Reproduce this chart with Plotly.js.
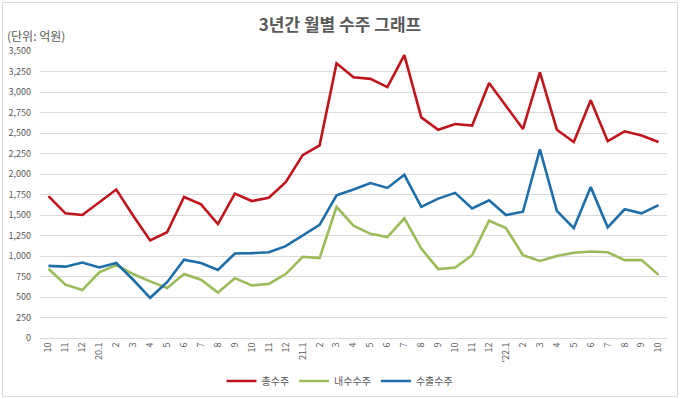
<!DOCTYPE html>
<html>
<head>
<meta charset="utf-8">
<script src="https://cdn.plot.ly/plotly-3.0.1.min.js"></script>
<style>
  html, body { margin: 0; padding: 0; background: #fff; }
  #wrap { position: relative; width: 680px; height: 399px; }
  #chart { width: 680px; height: 399px; }
  #frame { position: absolute; left: 2px; top: 2px; width: 674px; height: 393px; border: 1px solid #d9d9d9; pointer-events: none; }
</style>
</head>
<body>
<div id="wrap"><div id="chart"></div><div id="frame"></div></div>
<script>
const monthLabels = ["10","11","12","20.1","2","3","4","5","6","7","8","9","10","11","12","21.1","2","3","4","5","6","7","8","9","10","11","12","'22.1","2","3","4","5","6","7","8","9","10"];
const totalOrders = [1730,1520,1500,1660,1810,1490,1190,1290,1720,1630,1390,1760,1670,1710,1900,2230,2350,3350,3180,3160,3060,3450,2690,2540,2610,2590,3110,2830,2550,3240,2540,2390,2900,2400,2520,2470,2390];
const domesticOrders = [845,650,585,800,890,780,690,610,780,710,555,730,640,660,780,990,975,1600,1370,1270,1230,1460,1090,840,860,1010,1430,1340,1010,940,1000,1040,1055,1045,950,950,770];
const exportOrders = [880,870,920,860,915,710,490,680,955,915,830,1030,1035,1045,1120,1250,1380,1740,1810,1890,1830,1990,1600,1700,1770,1580,1680,1500,1540,2300,1550,1340,1840,1350,1570,1520,1620];
const seriesNames = ["총수주","내수수주","수출수주"];
const yTicks = [0,250,500,750,1000,1250,1500,1750,2000,2250,2500,2750,3000,3250,3500];

const xIdx = monthLabels.map((_, i) => i);
const colors = ["#C0141C", "#9BBB59", "#1E6EAA"];
const font = '"Noto Sans CJK KR", "Noto Sans", sans-serif';

const traces = [totalOrders, domesticOrders, exportOrders].map((ys, k) => ({
  x: xIdx, y: ys, name: seriesNames[k], type: 'scatter', mode: 'lines',
  line: { color: colors[k], width: 2.6 }
}));

const layout = {
  width: 680, height: 399,
  margin: { l: 40, r: 13, t: 51, b: 61 },
  paper_bgcolor: '#fff', plot_bgcolor: '#fff',
  font: { family: font, color: '#595959', size: 9 },
  separators: '.,',
  title: { text: '3년간 월별 수주 그래프', x: 0.5, xref: 'container', xanchor: 'center', y: 0.937, yref: 'container', yanchor: 'middle', font: { family: font, size: 17, weight: 600, color: '#595959' } },
  xaxis: {
    range: [-0.5, 36.5], tickmode: 'array', tickvals: xIdx, ticktext: monthLabels,
    tickangle: -90, ticks: '', showgrid: false, zeroline: false,
    showline: true, linecolor: '#d9d9d9', linewidth: 1,
    tickfont: { size: 9, color: '#595959' }, fixedrange: true
  },
  yaxis: {
    range: [0, 3500], tickmode: 'array', tickvals: yTicks, tickformat: ',d',
    showgrid: true, gridcolor: '#d9d9d9', gridwidth: 1, zeroline: false,
    ticks: '', ticklabelstandoff: 8, tickfont: { size: 9, color: '#595959' }, fixedrange: true
  },
  legend: {
    orientation: 'h', xref: 'container', yref: 'container', x: 0.5, xanchor: 'center',
    y: 0.045, yanchor: 'middle', itemwidth: 30, font: { size: 10, color: '#595959', family: font },
    tracegroupgap: 0
  },
  annotations: [{
    text: '(단위: 억원)', xref: 'paper', yref: 'paper', x: 0, y: 1, xshift: -35, yshift: 16,
    xanchor: 'left', yanchor: 'middle', showarrow: false, font: { size: 12, color: '#595959', family: font }
  }],
  showlegend: true
};

Plotly.newPlot('chart', traces, layout, { displayModeBar: false, staticPlot: true });
</script>
</body>
</html>
